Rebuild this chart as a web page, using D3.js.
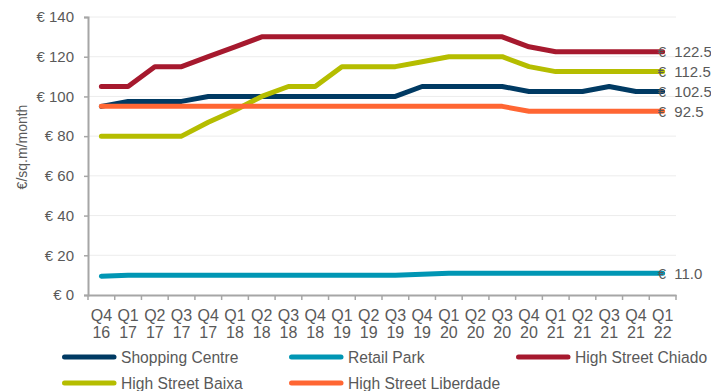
<!DOCTYPE html>
<html>
<head>
<meta charset="utf-8">
<script src="https://cdn.jsdelivr.net/npm/d3@7"></script>
<style>
  body { margin: 0; background: #fff; }
  svg text { fill: #595959; }
</style>
</head>
<body>
<div class="rent-chart"></div>
<script>
const quarters = ['Q4 16', 'Q1 17', 'Q2 17', 'Q3 17', 'Q4 17', 'Q1 18', 'Q2 18', 'Q3 18', 'Q4 18', 'Q1 19', 'Q2 19',
  'Q3 19', 'Q4 19', 'Q1 20', 'Q2 20', 'Q3 20', 'Q4 20', 'Q1 21', 'Q2 21', 'Q3 21', 'Q4 21', 'Q1 22'];
const shoppingCentre = [95, 97.5, 97.5, 97.5, 100, 100, 100, 100, 100, 100, 100, 100, 105, 105, 105, 105, 102.5, 102.5, 102.5, 105, 102.5, 102.5];
const retailPark = [9.5, 10, 10, 10, 10, 10, 10, 10, 10, 10, 10, 10, 10.5, 11, 11, 11, 11, 11, 11, 11, 11, 11];
const chiado = [105, 105, 115, 115, 120, 125, 130, 130, 130, 130, 130, 130, 130, 130, 130, 130, 125, 122.5, 122.5, 122.5, 122.5, 122.5];
const baixa = [80, 80, 80, 80, 87, 93, 100, 105, 105, 115, 115, 115, 117.5, 120, 120, 120, 115, 112.5, 112.5, 112.5, 112.5, 112.5];
const liberdade = [95, 95, 95, 95, 95, 95, 95, 95, 95, 95, 95, 95, 95, 95, 95, 95, 92.5, 92.5, 92.5, 92.5, 92.5, 92.5];
const seriesNames = ['Shopping Centre', 'Retail Park', 'High Street Chiado', 'High Street Baixa', 'High Street Liberdade'];
const yTicks = [0, 20, 40, 60, 80, 100, 120, 140];

const colors = ['#003a63', '#0096b4', '#a6192e', '#b5bd00', '#ff6633'];
const series = [shoppingCentre, retailPark, chiado, baixa, liberdade].map((values, i) => ({
  name: seriesNames[i], values: values, color: colors[i]
}));

const width = 711, height = 391;
const plotLeft = 88, plotRight = 676, plotTop = 17, plotBottom = 295;
const font = '"Liberation Sans", Arial, sans-serif';

const svg = d3.select('.rent-chart').append('svg')
  .attr('width', width)
  .attr('height', height)
  .style('font-family', font);

const x = d3.scaleBand().domain(quarters).range([plotLeft, plotRight]);
const y = d3.scaleLinear().domain([0, 140]).range([plotBottom, plotTop]);

// gridlines
svg.append('g')
  .selectAll('line')
  .data(yTicks.filter(d => d > 0))
  .enter().append('line')
  .attr('x1', plotLeft).attr('x2', plotRight)
  .attr('y1', d => y(d)).attr('y2', d => y(d))
  .style('stroke', '#ececec')
  .style('stroke-width', 1);

// y axis
const yAxis = svg.append('g')
  .attr('transform', 'translate(' + plotLeft + ',0)')
  .call(d3.axisLeft(y).tickValues(yTicks).tickSize(4).tickPadding(10).tickFormat(d => '€ ' + d));
yAxis.select('.domain').style('stroke', '#a6a6a6').style('stroke-width', 2);
yAxis.selectAll('.tick line').style('stroke', '#a6a6a6').style('stroke-width', 1.5);
yAxis.selectAll('text').style('font-family', font).style('font-size', '15px');

// x axis
const xAxis = svg.append('g')
  .attr('transform', 'translate(0,' + plotBottom + ')')
  .call(d3.axisBottom(x).tickSize(0).tickFormat(''));
xAxis.select('.domain').style('stroke', '#a6a6a6').style('stroke-width', 2);
xAxis.append('g')
  .selectAll('line')
  .data(quarters.concat(['end']))
  .enter().append('line')
  .attr('x1', (d, i) => plotLeft + i * x.step()).attr('x2', (d, i) => plotLeft + i * x.step())
  .attr('y1', 0).attr('y2', 5)
  .style('stroke', '#a6a6a6')
  .style('stroke-width', 1.5);
const xLabels = svg.append('g')
  .selectAll('text')
  .data(quarters)
  .enter().append('text')
  .attr('text-anchor', 'middle')
  .style('font-size', '16px');
xLabels.append('tspan').attr('x', d => x(d) + x.bandwidth() / 2).attr('y', 321).text(d => d.split(' ')[0]);
xLabels.append('tspan').attr('x', d => x(d) + x.bandwidth() / 2).attr('y', 338).text(d => d.split(' ')[1]);

// axis title
svg.append('text')
  .attr('transform', 'translate(27,147) rotate(-90)')
  .attr('text-anchor', 'middle')
  .style('font-size', '14px')
  .text('€/sq.m/month');

// lines
const line = d3.line()
  .x((d, i) => x(quarters[i]) + x.bandwidth() / 2)
  .y(d => y(d));
svg.append('g')
  .selectAll('path')
  .data(series)
  .enter().append('path')
  .attr('d', d => line(d.values))
  .style('fill', 'none')
  .style('stroke', d => d.color)
  .style('stroke-width', 5)
  .style('stroke-linecap', 'round')
  .style('stroke-linejoin', 'round');

// end labels
const last = quarters.length - 1;
svg.append('g')
  .selectAll('text')
  .data(series)
  .enter().append('text')
  .attr('x', x(quarters[last]) + x.bandwidth() / 2 - 5)
  .attr('y', d => y(d.values[last]))
  .attr('dy', '0.36em')
  .style('font-size', '15px')
  .style('white-space', 'pre')
  .text(d => '€  ' + d.values[last].toFixed(1));

// legend
const legendPos = [[62, 357], [289, 357], [516, 357], [62, 383], [289, 383]];
const legend = svg.append('g')
  .selectAll('g')
  .data(series)
  .enter().append('g')
  .attr('transform', (d, i) => 'translate(' + legendPos[i][0] + ',' + legendPos[i][1] + ')');
legend.append('line')
  .attr('x1', 2.5).attr('x2', 52)
  .attr('y1', 0).attr('y2', 0)
  .style('stroke', d => d.color)
  .style('stroke-width', 5)
  .style('stroke-linecap', 'round');
legend.append('text')
  .attr('transform', 'translate(59,0) scale(0.92,1)')
  .attr('dy', '0.36em')
  .style('font-size', '17px')
  .text(d => d.name);
</script>
</body>
</html>
